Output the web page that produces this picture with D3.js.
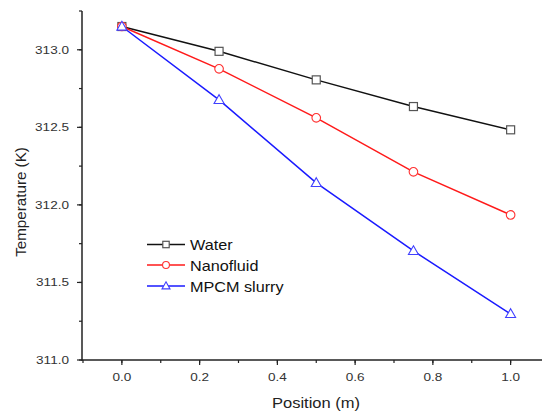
<!DOCTYPE html>
<html>
<head>
<meta charset="utf-8">
<script src="https://cdn.jsdelivr.net/npm/d3@7"></script>
<style>
  body { margin: 0; background: #fff; }
  text { font-family: "Liberation Sans", Arial, sans-serif; }
</style>
</head>
<body>
<svg id="chart" width="542" height="412"></svg>
<script>
const positions = [0, 0.25, 0.5, 0.75, 1.0];
const water = [313.15, 312.99, 312.806, 312.634, 312.484];
const nanofluid = [313.15, 312.877, 312.561, 312.213, 311.935];
const mpcm = [313.15, 312.677, 312.142, 311.703, 311.297];
const seriesNames = ["Water", "Nanofluid", "MPCM slurry"];
const xTicks = [0, 0.2, 0.4, 0.6, 0.8, 1.0];
const yTicks = [311.0, 311.5, 312.0, 312.5, 313.0];

const svg = d3.select("#chart");

const x = d3.scaleLinear().domain([-0.1, 1.1]).range([83, 549.5]);
const y = d3.scaleLinear().domain([311, 313.25]).range([360, 11]);

const axisColor = "#222";
const stretch = 1.18; // the reference text is a bit wide

// text placed at (tx,ty), widened horizontally
function label(tx, ty, str, size, anchor, sx) {
  return svg.append("text")
    .attr("transform", `translate(${tx},${ty}) scale(${sx},1)`)
    .attr("text-anchor", anchor).attr("font-size", size)
    .text(str);
}

// x axis
const gx = svg.append("g").attr("transform", "translate(0,360)");
gx.append("line").attr("x1", 82).attr("x2", 549).attr("stroke", axisColor).attr("stroke-width", 1.5);
gx.selectAll(".minor").data(d3.range(-0.1, 1.11, 0.1)).join("line")
  .attr("x1", d => x(d)).attr("x2", d => x(d)).attr("y1", 0).attr("y2", 3)
  .attr("stroke", axisColor).attr("stroke-width", 1.2);
gx.selectAll(".major").data(xTicks).join("line")
  .attr("x1", d => x(d)).attr("x2", d => x(d)).attr("y1", 0).attr("y2", 5)
  .attr("stroke", axisColor).attr("stroke-width", 1.2);
xTicks.forEach(d => {
  label(x(d), 381, d.toFixed(1), 11.5, "middle", stretch).attr("fill", "#333");
});

// y axis
const gy = svg.append("g").attr("transform", "translate(82,0)");
gy.append("line").attr("y1", 11).attr("y2", 360.7).attr("stroke", axisColor).attr("stroke-width", 1.5);
gy.selectAll(".minor").data(d3.range(311, 313.26, 0.25)).join("line")
  .attr("y1", d => y(d)).attr("y2", d => y(d)).attr("x1", 0).attr("x2", -3)
  .attr("stroke", axisColor).attr("stroke-width", 1.2);
gy.selectAll(".major").data(yTicks).join("line")
  .attr("y1", d => y(d)).attr("y2", d => y(d)).attr("x1", 0).attr("x2", -5)
  .attr("stroke", axisColor).attr("stroke-width", 1.2);
yTicks.forEach(d => {
  label(69, y(d) + 4, d.toFixed(1), 11.5, "end", stretch).attr("fill", "#333");
});

// axis titles
label(316, 408, "Position (m)", 14, "middle", stretch).attr("fill", "#222");
svg.append("text").attr("transform", "translate(26,202) rotate(-90)")
  .attr("text-anchor", "middle").attr("font-size", 15.2).attr("fill", "#222")
  .text("Temperature (K)");

const series = [
  { name: seriesNames[0], values: water, color: "#111", mark: "#555", shape: "square" },
  { name: seriesNames[1], values: nanofluid, color: "#ff1a1a", mark: "#ff3030", shape: "circle" },
  { name: seriesNames[2], values: mpcm, color: "#1a1aff", mark: "#4040ff", shape: "triangle" }
];

const line = d3.line().x(d => x(d[0])).y(d => y(d[1]));

function drawMarker(g, shape, color, k) {
  if (shape === "square") {
    g.append("rect").attr("x", -4 * k).attr("y", -4 * k).attr("width", 8 * k).attr("height", 8 * k)
      .attr("fill", "#fff").attr("stroke", color).attr("stroke-width", 1.2);
  } else if (shape === "circle") {
    g.append("circle").attr("r", 4.3 * k)
      .attr("fill", "#fff").attr("stroke", color).attr("stroke-width", 1.1);
  } else {
    g.append("path").attr("d", `M0,${-5.2 * k}L${5 * k},${3.6 * k}L${-5 * k},${3.6 * k}Z`)
      .attr("fill", "#fff").attr("stroke", color).attr("stroke-width", 1.1);
  }
}

series.forEach(s => {
  const pts = positions.map((p, i) => [p, s.values[i]]);
  svg.append("path").datum(pts).attr("d", line)
    .attr("fill", "none").attr("stroke", s.color).attr("stroke-width", 1.5);
});
series.forEach(s => {
  const pts = positions.map((p, i) => [p, s.values[i]]);
  svg.append("g").selectAll("g").data(pts).join("g")
    .attr("transform", d => `translate(${x(d[0])},${y(d[1])})`)
    .each(function() { drawMarker(d3.select(this), s.shape, s.mark, 1); });
});

// legend
const legendRows = [244.5, 265, 286];
series.forEach((s, i) => {
  const ly = legendRows[i];
  svg.append("line").attr("x1", 147).attr("x2", 185).attr("y1", ly).attr("y2", ly)
    .attr("stroke", s.color).attr("stroke-width", 1.5);
  const g = svg.append("g").attr("transform", `translate(166,${ly})`);
  drawMarker(g, s.shape, s.mark, 0.8);
  label(190, ly + 5.5, s.name, 15, "start", 1.08).attr("fill", "#111");
});
</script>
</body>
</html>
